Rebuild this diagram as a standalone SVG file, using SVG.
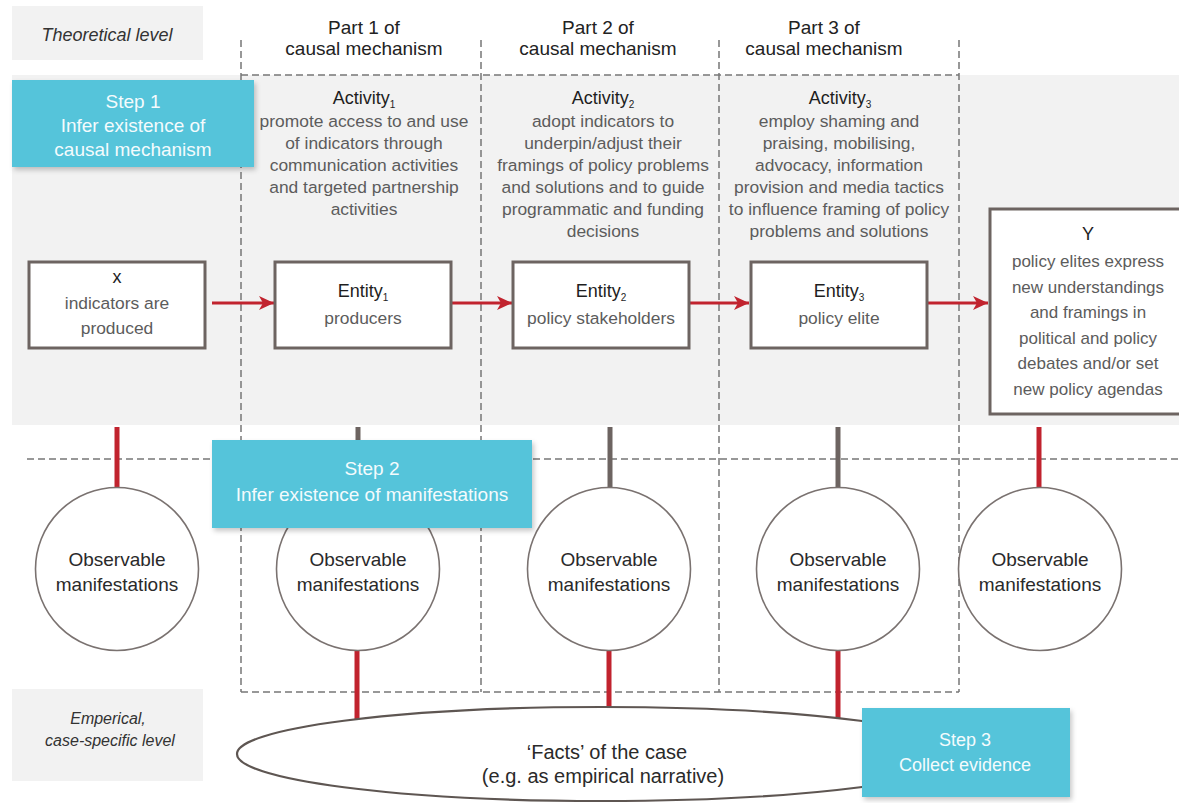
<svg xmlns="http://www.w3.org/2000/svg" width="1179" height="803" viewBox="0 0 1179 803">
<style>
text{font-family:"Liberation Sans",Arial,Helvetica,sans-serif;text-anchor:middle}
.hdr{font-size:19px;fill:#222}
.ttl{font-size:18px;fill:#1e1e1e}
.dsc{font-size:17.4px;fill:#5c5c5c}
.sub{font-size:10px}
.lvl{font-size:18px;font-style:italic;fill:#333}
.stp{font-size:19px;fill:#f4fbfd}
.obs{font-size:19px;fill:#2a2a2a}
.box{fill:#fff;stroke:#6d6461;stroke-width:3}
.circ{fill:#fff;stroke:#7a7270;stroke-width:1.6}
.dash{stroke:#777;stroke-width:1.5;stroke-dasharray:7 4;fill:none}
.red{stroke:#c1232e;stroke-width:3}
.redc{stroke:#c1232e;stroke-width:5}
.gryc{stroke:#6d6461;stroke-width:5}
.step{fill:#55c4da}
</style>
<defs>
<marker id="ah" markerUnits="userSpaceOnUse" markerWidth="16" markerHeight="16" viewBox="0 0 16 16" refX="15" refY="8" orient="auto">
<path d="M0,1 L15,8 L0,15 L4,8 Z" fill="#c1232e"/>
</marker>
<filter id="sh" x="-10%" y="-10%" width="125%" height="130%">
<feDropShadow dx="2" dy="3" stdDeviation="2.5" flood-color="#000" flood-opacity="0.22"/>
</filter>
</defs>

<!-- backgrounds -->
<rect x="12" y="75" width="1167" height="350" fill="#f2f2f2"/>
<g id="theoretical-level">
<rect x="12" y="6" width="191" height="54" fill="#f2f2f2"/>
<text class="lvl" x="107" y="41">Theoretical level</text>
</g>
<g id="empirical-level">
<rect x="12" y="689" width="191" height="92" fill="#f2f2f2"/>
<text class="lvl" x="108" y="724" style="font-size:16px">Emperical,</text>
<text class="lvl" x="110" y="746" style="font-size:16px">case-specific level</text>
</g>

<!-- dashed frame -->
<g id="frame">
<line class="dash" x1="241" y1="40" x2="241" y2="692"/>
<line class="dash" x1="481" y1="40" x2="481" y2="692"/>
<line class="dash" x1="719" y1="40" x2="719" y2="692"/>
<line class="dash" x1="959" y1="40" x2="959" y2="692"/>
<line class="dash" x1="241" y1="75" x2="959" y2="75"/>
<line class="dash" x1="241" y1="692" x2="959" y2="692"/>
<line class="dash" x1="27" y1="459" x2="1179" y2="459"/>
</g>

<!-- part headers -->
<g id="part1">
<text class="hdr" x="364" y="34">Part 1 of</text>
<text class="hdr" x="364" y="55">causal mechanism</text>
<text class="ttl" x="364" y="104">Activity<tspan class="sub" dy="4">1</tspan></text>
<text class="dsc" x="364" y="127">promote access to and use</text>
<text class="dsc" x="364" y="149">of indicators through</text>
<text class="dsc" x="364" y="171">communication activities</text>
<text class="dsc" x="364" y="193">and targeted partnership</text>
<text class="dsc" x="364" y="215">activities</text>
</g>
<g id="part2">
<text class="hdr" x="598" y="34">Part 2 of</text>
<text class="hdr" x="598" y="55">causal mechanism</text>
<text class="ttl" x="603" y="104">Activity<tspan class="sub" dy="4">2</tspan></text>
<text class="dsc" x="603" y="127">adopt indicators to</text>
<text class="dsc" x="603" y="149">underpin/adjust their</text>
<text class="dsc" x="603" y="171">framings of policy problems</text>
<text class="dsc" x="603" y="193">and solutions and to guide</text>
<text class="dsc" x="603" y="215">programmatic and funding</text>
<text class="dsc" x="603" y="237">decisions</text>
</g>
<g id="part3">
<text class="hdr" x="824" y="34">Part 3 of</text>
<text class="hdr" x="824" y="55">causal mechanism</text>
<text class="ttl" x="840" y="104">Activity<tspan class="sub" dy="4">3</tspan></text>
<text class="dsc" x="839" y="127">employ shaming and</text>
<text class="dsc" x="839" y="149">praising, mobilising,</text>
<text class="dsc" x="839" y="171">advocacy, information</text>
<text class="dsc" x="839" y="193">provision and media tactics</text>
<text class="dsc" x="839" y="215">to influence framing of policy</text>
<text class="dsc" x="839" y="237">problems and solutions</text>
</g>

<!-- connectors -->
<g id="connectors">
<line class="red" x1="212" y1="303" x2="274" y2="303" marker-end="url(#ah)"/>
<line class="red" x1="452" y1="303" x2="512" y2="303" marker-end="url(#ah)"/>
<line class="red" x1="689" y1="303" x2="749" y2="303" marker-end="url(#ah)"/>
<line class="red" x1="927" y1="303" x2="988" y2="303" marker-end="url(#ah)"/>
<line class="redc" x1="117" y1="427" x2="117" y2="488"/>
<line class="gryc" x1="358" y1="427" x2="358" y2="488"/>
<line class="gryc" x1="610" y1="427" x2="610" y2="488"/>
<line class="gryc" x1="838" y1="427" x2="838" y2="488"/>
<line class="redc" x1="1039" y1="427" x2="1039" y2="488"/>
<line class="redc" x1="357" y1="649" x2="357" y2="722"/>
<line class="redc" x1="609" y1="649" x2="609" y2="710"/>
<line class="redc" x1="838" y1="649" x2="838" y2="722"/>
</g>

<!-- entity nodes -->
<g id="node-x">
<rect class="box" x="29" y="262" width="176" height="86"/>
<text class="ttl" x="117" y="283">x</text>
<text class="dsc" x="117" y="309">indicators are</text>
<text class="dsc" x="117" y="334">produced</text>
</g>
<g id="node-entity1">
<rect class="box" x="275" y="262" width="176" height="86"/>
<text class="ttl" x="363" y="297">Entity<tspan class="sub" dy="4">1</tspan></text>
<text class="dsc" x="363" y="324">producers</text>
</g>
<g id="node-entity2">
<rect class="box" x="513" y="262" width="176" height="86"/>
<text class="ttl" x="601" y="297">Entity<tspan class="sub" dy="4">2</tspan></text>
<text class="dsc" x="601" y="324">policy stakeholders</text>
</g>
<g id="node-entity3">
<rect class="box" x="751" y="262" width="176" height="86"/>
<text class="ttl" x="839" y="297">Entity<tspan class="sub" dy="4">3</tspan></text>
<text class="dsc" x="839" y="324">policy elite</text>
</g>
<g id="node-y">
<rect class="box" x="990" y="209" width="192" height="205"/>
<text class="ttl" x="1088" y="240">Y</text>
<text class="dsc" x="1088" y="267" style="font-size:17px">policy elites express</text>
<text class="dsc" x="1088" y="293" style="font-size:17px">new understandings</text>
<text class="dsc" x="1088" y="318" style="font-size:17px">and framings in</text>
<text class="dsc" x="1088" y="344" style="font-size:17px">political and policy</text>
<text class="dsc" x="1088" y="369" style="font-size:17px">debates and/or set</text>
<text class="dsc" x="1088" y="395" style="font-size:17px">new policy agendas</text>
</g>

<!-- observable manifestations -->
<g id="obs-x">
<circle class="circ" cx="117" cy="569" r="81.5"/>
<text class="obs" x="117" y="566">Observable</text>
<text class="obs" x="117" y="591">manifestations</text>
</g>
<g id="obs-1">
<circle class="circ" cx="358" cy="569" r="81.5"/>
<text class="obs" x="358" y="566">Observable</text>
<text class="obs" x="358" y="591">manifestations</text>
</g>
<g id="obs-2">
<circle class="circ" cx="609" cy="569" r="81.5"/>
<text class="obs" x="609" y="566">Observable</text>
<text class="obs" x="609" y="591">manifestations</text>
</g>
<g id="obs-3">
<circle class="circ" cx="838" cy="569" r="81.5"/>
<text class="obs" x="838" y="566">Observable</text>
<text class="obs" x="838" y="591">manifestations</text>
</g>
<g id="obs-y">
<circle class="circ" cx="1040" cy="569" r="81.5"/>
<text class="obs" x="1040" y="566">Observable</text>
<text class="obs" x="1040" y="591">manifestations</text>
</g>

<!-- facts ellipse -->
<g id="facts">
<ellipse cx="602" cy="754" rx="365" ry="47" fill="#fff" stroke="#5e5652" stroke-width="2.2"/>
<text class="obs" x="607" y="759" style="font-size:20px">‘Facts’ of the case</text>
<text class="obs" x="603" y="783" style="font-size:20px">(e.g. as empirical narrative)</text>
</g>

<!-- steps -->
<g id="step1">
<rect class="step" x="12" y="80" width="242" height="87" filter="url(#sh)"/>
<text class="stp" x="133" y="108">Step 1</text>
<text class="stp" x="133" y="132">Infer existence of</text>
<text class="stp" x="133" y="156">causal mechanism</text>
</g>
<g id="step2">
<rect class="step" x="212" y="440" width="320" height="88" filter="url(#sh)"/>
<text class="stp" x="372" y="475">Step 2</text>
<text class="stp" x="372" y="501">Infer existence of manifestations</text>
</g>
<g id="step3">
<rect class="step" x="862" y="708" width="208" height="89" filter="url(#sh)"/>
<text class="stp" x="965" y="746" style="font-size:18px">Step 3</text>
<text class="stp" x="965" y="771" style="font-size:18px">Collect evidence</text>
</g>
</svg>
